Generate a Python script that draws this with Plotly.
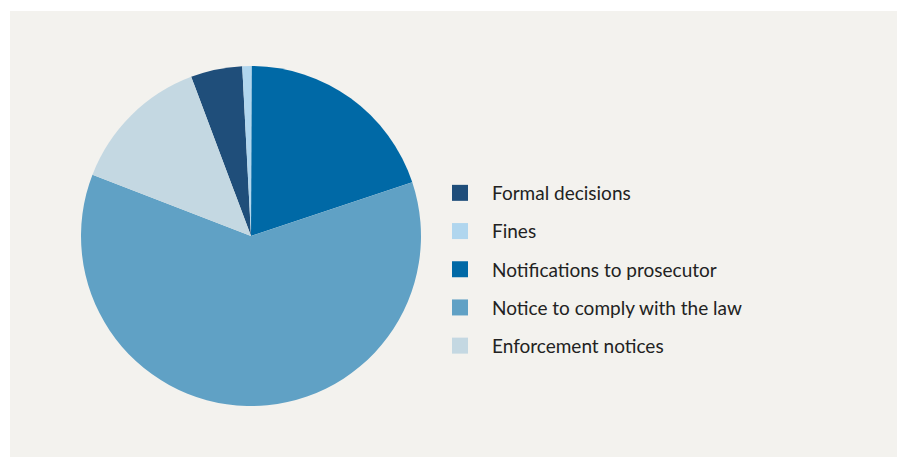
import plotly.graph_objects as go

labels = ["Formal decisions", "Fines", "Notifications to prosecutor",
          "Notice to comply with the law", "Enforcement notices"]
values = [4.9, 0.9, 19.8, 61.0, 13.4]
colors = ["#1f4e7a", "#b0d6ee", "#0069a6", "#60a1c5", "#c4d8e2"]

W, H = 889, 449
cx, cy, r = 243, 228, 170
panel = "#f3f2ee"

fig = go.Figure()
fig.add_trace(go.Pie(
    labels=labels,
    values=values,
    marker=dict(colors=colors, line=dict(width=0)),
    sort=False,
    direction="clockwise",
    rotation=339.4,
    textinfo="none",
    hoverinfo="label+percent",
    showlegend=False,
    domain=dict(x=[(cx - r) / W, (cx + r) / W],
                y=[(H - cy - r) / H, (H - cy + r) / H]),
))

# legend entries (one group per category so the spacing can be set)
for lab, col in zip(labels, colors):
    fig.add_trace(go.Scatter(
        x=[None], y=[None], mode="markers", name=lab, legendgroup=lab,
        marker=dict(symbol="square", size=16, color=col, line=dict(width=0)),
        hoverinfo="skip",
    ))

fig.update_layout(
    width=W, height=H,
    margin=dict(l=0, r=0, t=0, b=0),
    paper_bgcolor="white",
    plot_bgcolor="rgba(0,0,0,0)",
    font=dict(family="Lato, Noto Sans, sans-serif", size=19, color="#222222"),
    xaxis=dict(visible=False),
    yaxis=dict(visible=False),
    legend=dict(x=420 / W, y=1 - 166 / H, xanchor="left", yanchor="top",
                itemwidth=54, tracegroupgap=10.5, bgcolor="rgba(0,0,0,0)",
                font=dict(size=19, color="#222222")),
    shapes=[dict(type="rect", xref="paper", yref="paper",
                 x0=2 / W, x1=1.01, y0=-0.01, y1=1 - 3 / H,
                 fillcolor=panel, line=dict(width=0), layer="below")],
)

fig.write_html("out.html")
